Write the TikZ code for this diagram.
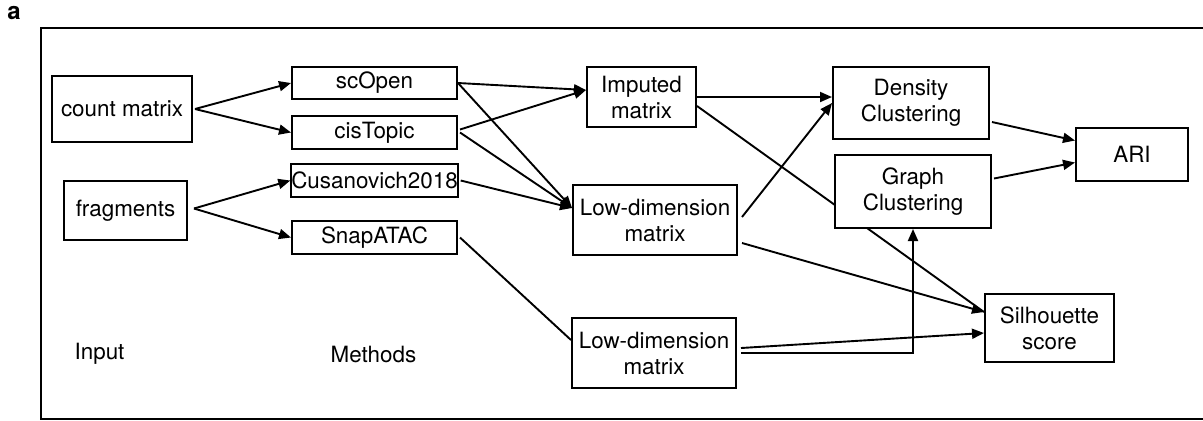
\documentclass[tikz,border=0pt]{standalone}
\usepackage{fontspec}
\setmainfont{TeX Gyre Heros}
\usetikzlibrary{arrows.meta,calc}
\pgfdeclarelayer{bg}
\pgfsetlayers{bg,main}
\begin{document}
\begin{tikzpicture}[x=0.5pt,y=-0.5pt,
  font=\fontsize{11.2}{13}\selectfont,
  box/.style={draw,line width=1pt,fill=white,align=center,inner sep=0pt},
  conn/.style={line width=0.95pt},
  arr/.style={conn,-{Triangle[length=6pt,width=5pt]}},
  lbl/.style={inner sep=0pt}]
\useasboundingbox (0,0) rectangle (1203,420);
\node[font=\fontsize{12}{14}\selectfont\bfseries] (lab) at (14,13) {a};
% nodes
\node[box,minimum width=70pt,minimum height=33pt] (cm) at (122,109) {count matrix};
\node[box,minimum width=61.5pt,minimum height=29.5pt] (frag) at (125.5,210.5) {fragments};
\node[box,minimum width=82.5pt,minimum height=16pt] (scopen) at (374.5,83) {scOpen};
\node[box,minimum width=82.5pt,minimum height=16.5pt] (cistopic) at (374.5,132.5) {cisTopic};
\node[box,minimum width=82.5pt,minimum height=16.5pt] (cusa) at (374.5,180.5) {Cusanovich2018};
\node[box,minimum width=82.5pt,minimum height=16.5pt] (snap) at (374.5,237.5) {SnapATAC};
\node[box,minimum width=54.5pt,minimum height=30pt] (imp) at (641.5,97) {Imputed\\matrix};
\node[box,minimum width=82pt,minimum height=35pt] (low1) at (655,220) {Low-dimension\\matrix};
\node[box,minimum width=82pt,minimum height=35pt] (low2) at (654,353) {Low-dimension\\matrix};
\node[box,minimum width=78pt,minimum height=36pt] (dens) at (911,103) {Density\\Clustering};
\node[box,minimum width=78pt,minimum height=36.5pt] (graph) at (913,191.5) {Graph\\Clustering};
\node[box,minimum width=56pt,minimum height=26.5pt] (ari) at (1132,154.5) {ARI};
\node[box,minimum width=64.5pt,minimum height=34pt] (sil) at (1049.5,328) {Silhouette\\score};
\node[lbl] (input) at (99.5,354) {Input};
\node[lbl] (methods) at (373.5,354) {Methods};
\begin{pgfonlayer}{bg}
\begin{scope}
\clip (0,0) rectangle (1203,420);
\draw[line width=1pt] (41,28) rectangle (1220,418.5);
\end{scope}
\draw[arr] ([xshift=1pt]cm.east) -- (scopen.west);
\draw[arr] ([xshift=1pt]cm.east) -- (cistopic.west);
\draw[arr] ([xshift=3pt,yshift=1pt]frag.east) -- (cusa.west);
\draw[arr] ([xshift=3pt,yshift=1pt]frag.east) -- (snap.west);
\draw[arr] (scopen.east) -- ([yshift=3.5pt]imp.west);
\draw[arr] ([xshift=1pt,yshift=1.5pt]cistopic.east) -- ([yshift=3.5pt]imp.west);
\draw[arr] (scopen.east) -- ([yshift=6pt]low1.west);
\draw[arr] ([xshift=1pt]cistopic.east) -- ([yshift=6pt]low1.west);
\draw[arr] ([xshift=1pt]cusa.east) -- ([yshift=6pt]low1.west);
\draw[conn] ([xshift=1pt]snap.east) -- ([yshift=6.5pt]low2.west);
\draw[arr] (imp.east) -- (imp.east -| dens.west);
\draw[conn] ([yshift=-4.5pt]imp.east) -- ([yshift=8pt]sil.west);
\draw[arr] ([xshift=2pt,yshift=1.5pt]low1.east) -- (dens.west);
\draw[arr] ([xshift=2pt,yshift=-11.5pt]low1.east) -- ([yshift=8pt]sil.west);
\draw[arr] ([xshift=2pt,yshift=2.5pt]low2.east) -- ([yshift=-2.5pt]sil.west);
\draw[arr] ([xshift=2pt]low2.east) -| (graph.south);
\draw[arr] ([xshift=1pt,yshift=-9.5pt]dens.east) -- ([yshift=7pt]ari.west);
\draw[arr] ([xshift=1pt,yshift=6.5pt]graph.east) -- ([yshift=-4pt]ari.west);
\end{pgfonlayer}
\end{tikzpicture}
\end{document}
